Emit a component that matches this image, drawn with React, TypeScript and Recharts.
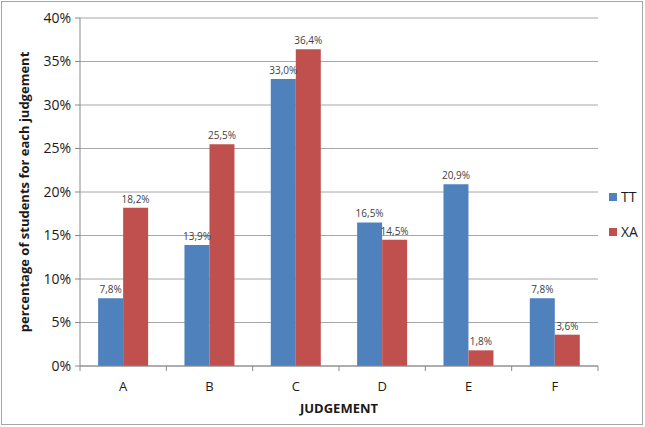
import { BarChart, Bar, XAxis, YAxis, CartesianGrid, LabelList } from "recharts";

const categories = ["A", "B", "C", "D", "E", "F"];
const ttValues = [7.8, 13.9, 33.0, 16.5, 20.9, 7.8];
const xaValues = [18.2, 25.5, 36.4, 14.5, 1.8, 3.6];
const yTicks = [0, 5, 10, 15, 20, 25, 30, 35, 40];

const data = categories.map((c, i) => ({ name: c, TT: ttValues[i], XA: xaValues[i] }));

const FONT = "'Open Sans', 'Liberation Sans', sans-serif";
const BLUE = "#4F81BD";
const RED = "#C0504D";
const PLOT_LEFT = 80;
const PLOT_RIGHT = 598;
const BAND = (PLOT_RIGHT - PLOT_LEFT) / categories.length;

const fmt = (v: any) => `${Number(v).toFixed(1).replace(".", ",")}%`;

function XTick(props: any) {
  const { x, y, payload, index } = props;
  const left = x - BAND / 2;
  return (
    <g>
      <line x1={left} y1={y - 8} x2={left} y2={y - 3} stroke="#898989" />
      {index === categories.length - 1 && (
        <line x1={left + BAND} y1={y - 8} x2={left + BAND} y2={y - 3} stroke="#898989" />
      )}
      <text x={x} y={y + 17} textAnchor="middle" fontSize={13} fill="#1a1a1a" fontFamily={FONT}>
        {payload.value}
      </text>
    </g>
  );
}

export default function App() {
  return (
    <div style={{ position: "absolute", left: 0, top: 0, width: 645, height: 427, background: "#fff" }}>
      <div
        style={{
          position: "absolute",
          left: 1,
          top: 1,
          width: 642,
          height: 424,
          border: "1px solid #a6a6a6",
          boxSizing: "border-box",
        }}
      />
      <BarChart
        width={645}
        height={427}
        data={data}
        margin={{ top: 18, right: 645 - PLOT_RIGHT, bottom: 0, left: 0 }}
        barCategoryGap="21%"
        barGap={0}
      >
        <CartesianGrid vertical={false} stroke="#a6a6a6" />
        <XAxis
          dataKey="name"
          tick={<XTick />}
          tickLine={false}
          axisLine={{ stroke: "#898989" }}
          height={61}
          label={{
            value: "JUDGEMENT",
            position: "insideBottom",
            offset: 14,
            style: { fontFamily: FONT, fontWeight: 700, fontSize: 13, fill: "#1a1a1a" },
          }}
        />
        <YAxis
          width={PLOT_LEFT}
          domain={[0, 40]}
          ticks={yTicks}
          interval={0}
          tickFormatter={(v: number) => `${v}%`}
          tick={{ fontSize: 14, fill: "#1a1a1a", fontFamily: FONT }}
          tickSize={5}
          tickMargin={4}
          tickLine={{ stroke: "#898989" }}
          axisLine={{ stroke: "#898989" }}
          label={{
            value: "percentage of students for each judgement",
            angle: -90,
            position: "insideLeft",
            offset: 24,
            style: { textAnchor: "middle", fontFamily: FONT, fontWeight: 700, fontSize: 13, fill: "#1a1a1a" },
          }}
        />
        <Bar dataKey="TT" fill={BLUE} isAnimationActive={false}>
          <LabelList dataKey="TT" position="top" formatter={fmt} style={{ fontSize: 10, fill: "#404040", fontFamily: FONT }} />
        </Bar>
        <Bar dataKey="XA" fill={RED} isAnimationActive={false}>
          <LabelList dataKey="XA" position="top" formatter={fmt} style={{ fontSize: 10, fill: "#404040", fontFamily: FONT }} />
        </Bar>
      </BarChart>
      {[
        { name: "TT", color: BLUE, top: 187 },
        { name: "XA", color: RED, top: 222 },
      ].map((it) => (
        <div
          key={it.name}
          style={{
            position: "absolute",
            left: 609,
            top: it.top,
            display: "flex",
            alignItems: "center",
            fontFamily: FONT,
            fontSize: 14,
            color: "#1a1a1a",
          }}
        >
          <span style={{ width: 8, height: 8, background: it.color, marginRight: 4 }} />
          {it.name}
        </div>
      ))}
    </div>
  );
}
